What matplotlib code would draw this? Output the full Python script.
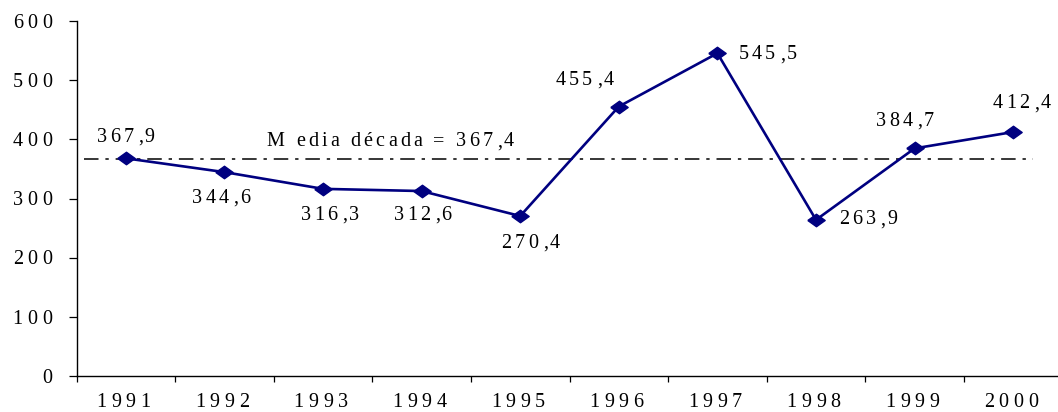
import matplotlib
matplotlib.use("Agg")
import matplotlib.pyplot as plt
import numpy as np
from matplotlib.font_manager import findfont, FontProperties
from matplotlib.ft2font import FT2Font

# ---- data -------------------------------------------------------------
years = ["1991", "1992", "1993", "1994", "1995", "1996", "1997", "1998", "1999", "2000"]
values = [367.9, 344.6, 316.3, 312.6, 270.4, 455.4, 545.5, 263.9, 384.7, 412.4]
value_labels = ["367,9", "344,6", "316,3", "312,6", "270,4", "455,4", "545,5", "263,9", "384,7", "412,4"]
decade_mean = 367.4
mean_label = "M edia década = 367,4"
y_ticks = [0, 100, 200, 300, 400, 500, 600]

# ---- style ------------------------------------------------------------
FAMILY = "Liberation Serif"
FS = 14.5
NAVY = "#000080"
DPI = 100
PX = 72.0 / DPI  # points per pixel

_ft = FT2Font(findfont(FontProperties(family=FAMILY)))
_ft.set_size(FS, 72)


def _advance(ch):
    try:
        from matplotlib.ft2font import LoadFlags
        g = _ft.load_char(ord(ch), flags=LoadFlags.NO_HINTING)
    except Exception:
        g = _ft.load_char(ord(ch))
    return g.linearHoriAdvance / 65536.0


def tracked_text(ax, x, y, s, track, xycoords, dx=0.0, dy=0.0, ha="center"):
    """Draw text with extra letter spacing (track, dx, dy in points)."""
    adv = [_advance(c) for c in s]
    total = sum(a + track for a in adv)
    start = {"left": 0.0, "center": -total / 2.0, "right": -(total - track)}[ha]
    pos = start
    for c, a in zip(s, adv):
        # decimal comma sits nearer the following digit
        shift = 1.4 if c == "," else 0.0
        ax.annotate(c, xy=(x, y), xycoords=xycoords,
                    xytext=(dx + pos + shift, dy), textcoords="offset points",
                    ha="left", va="baseline", fontsize=FS, family=FAMILY,
                    color="black", annotation_clip=False)
        pos += a + track


fig = plt.figure(figsize=(10.58, 4.12), dpi=DPI)
ax = fig.add_axes([76.5 / 1058, 36 / 412, 986 / 1058, 355 / 412])

x = np.arange(len(years))
ax.set_xlim(-0.5, len(years) - 0.5)
ax.set_ylim(0, 600)

# mean line (dash-dot)
ax.plot([-0.42, 9.2], [decade_mean, decade_mean], color="black", lw=1.1,
        dashes=(9.5, 4.5, 2.2, 4.5), dash_capstyle="butt", zorder=2)

# series
diamond = [(-1, 0), (0, 0.72), (1, 0), (0, -0.72), (-1, 0)]
ax.plot(x, values, color=NAVY, lw=1.9, marker=diamond, markersize=12.5,
        markerfacecolor=NAVY, markeredgecolor=NAVY, zorder=3, clip_on=False)

# spines & ticks
for side in ("top", "right"):
    ax.spines[side].set_visible(False)
for side in ("left", "bottom"):
    ax.spines[side].set_linewidth(1.0)
    ax.spines[side].set_color("black")

ax.set_yticks(y_ticks)
ax.set_yticklabels([])
ax.tick_params(axis="y", direction="out", length=5.5, width=0.9, color="black")
ax.set_xticks(x)
ax.set_xticklabels([])
ax.tick_params(axis="x", which="major", length=0)
ax.set_xticks(np.arange(-0.5, len(years)), minor=True)
ax.tick_params(axis="x", which="minor", direction="out", length=4, width=0.9, color="black")

# tick labels with letter spacing
ytr = ax.get_yaxis_transform()
for t in y_ticks:
    tracked_text(ax, 0, t, str(t), 3.3, ytr, dx=-24.5 * PX, dy=-6.7 * PX, ha="right")
xtr = ax.get_xaxis_transform()
for xi, yr in zip(x, years):
    tracked_text(ax, xi, 0, yr, 3.3, xtr, dy=-31 * PX, ha="center")

# value labels: (dx, dy) in pixels relative to the point, alignment
label_pos = [(1.5, 16.3, "center"), (-1.8, -30.4, "center"), (8.4, -30.7, "center"),
             (2.6, -28.5, "center"), (11.8, -31.5, "center"), (-33, 22, "center"),
             (21, -6.1, "left"), (23, -4.4, "left"), (-8, 22.4, "center"),
             (10, 23.5, "center")]
for xi, v, lab, (ddx, ddy, ha) in zip(x, values, value_labels, label_pos):
    tracked_text(ax, xi, v, lab, 2.3, "data", dx=ddx * PX, dy=ddy * PX, ha=ha)

tracked_text(ax, 2.70, decade_mean, mean_label, 2.27, "data", dx=0, dy=12.5 * PX, ha="center")

fig.savefig("out.png", dpi=DPI)
